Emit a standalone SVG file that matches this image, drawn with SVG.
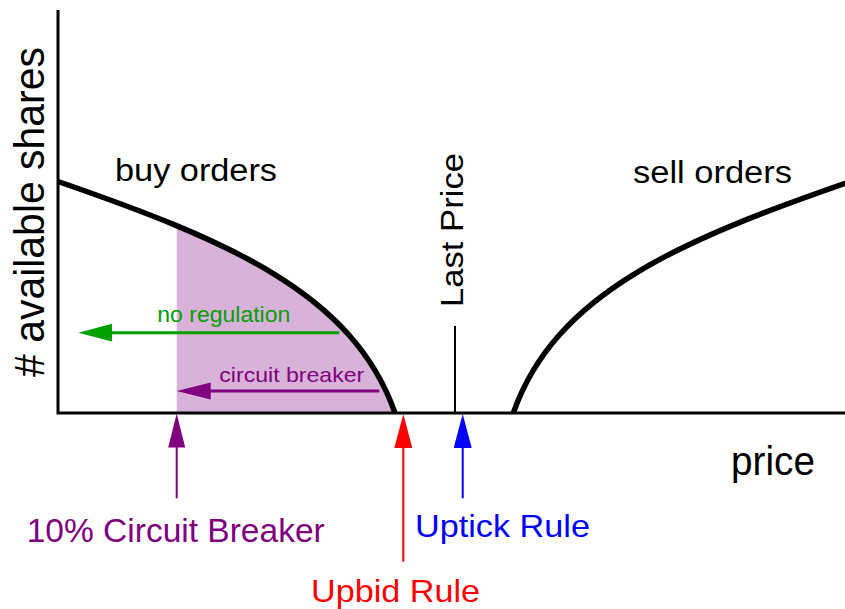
<svg xmlns="http://www.w3.org/2000/svg" width="845" height="609" viewBox="0 0 845 609">
<style>
text{font-family:"Liberation Sans",Arial,Helvetica,sans-serif}
.axis{fill:none;stroke:#000;stroke-width:3;stroke-linejoin:miter}
.curve{fill:none;stroke:#000;stroke-width:5.5;stroke-linecap:butt}
.green{fill:#00a000}
.purple{fill:#800080}
.red{fill:#ff0000}
.blue{fill:#0000ff}
</style>
<defs>
<marker id="hG" markerUnits="userSpaceOnUse" markerWidth="36" markerHeight="20" refX="4" refY="9" orient="auto"><path d="M34,9 L0,0 L0,18 Z" fill="#00a000"/></marker>
<marker id="hP" markerUnits="userSpaceOnUse" markerWidth="36" markerHeight="20" refX="4" refY="9" orient="auto"><path d="M34,9 L0,0.5 L0,17.5 Z" fill="#800080"/></marker>
<marker id="hR" markerUnits="userSpaceOnUse" markerWidth="36" markerHeight="20" refX="4" refY="9" orient="auto"><path d="M34,9 L0,0 L0,18 Z" fill="#ff0000"/></marker>
<marker id="hB" markerUnits="userSpaceOnUse" markerWidth="36" markerHeight="20" refX="4" refY="9" orient="auto"><path d="M34,9 L0,0 L0,18 Z" fill="#0000ff"/></marker>
<clipPath id="cbClip"><rect x="176.7" y="0" width="300" height="413"/></clipPath>
</defs>

<g id="shading">
<path d="M58,181.5 C228,240.3 353,293 395,413 L58,413 Z" fill="#d8b2d8" clip-path="url(#cbClip)"/>
</g>

<g id="axes">
<polyline class="axis" points="58,10 58,413 845,413"/>
<text transform="translate(43.5,377) rotate(-90)" font-size="42" textLength="330" lengthAdjust="spacingAndGlyphs"># available shares</text>
<text x="731" y="475" font-size="40" textLength="84" lengthAdjust="spacingAndGlyphs">price</text>
</g>

<g id="buy-orders">
<path class="curve" d="M58,181.5 C228,240.3 353,293 395,413"/>
<text x="115" y="181" font-size="31" textLength="162" lengthAdjust="spacingAndGlyphs">buy orders</text>
</g>

<g id="sell-orders">
<path class="curve" d="M513.3,413 C555.3,293 680.3,240.3 850.3,181.5"/>
<text x="633" y="183" font-size="31" textLength="159" lengthAdjust="spacingAndGlyphs">sell orders</text>
</g>

<g id="last-price">
<line x1="455" y1="326" x2="455" y2="413" stroke="#000" stroke-width="2"/>
<text transform="translate(463,307) rotate(-90)" font-size="31" textLength="154" lengthAdjust="spacingAndGlyphs">Last Price</text>
</g>

<g id="connectors">
<line x1="339.3" y1="332.7" x2="108.3" y2="332.7" stroke="#00a000" stroke-width="3" marker-end="url(#hG)"/>
<line x1="379.3" y1="391" x2="206.7" y2="391" stroke="#800080" stroke-width="3" marker-end="url(#hP)"/>
<line x1="176.7" y1="498.3" x2="176.7" y2="443.5" stroke="#800080" stroke-width="2" marker-end="url(#hP)"/>
<line x1="403.3" y1="561.7" x2="403.3" y2="444" stroke="#ff0000" stroke-width="2" marker-end="url(#hR)"/>
<line x1="462.7" y1="498.3" x2="462.7" y2="444" stroke="#0000ff" stroke-width="2" marker-end="url(#hB)"/>
</g>

<g id="no-regulation">
<text class="green" x="157.3" y="321.7" font-size="21.5" textLength="133" lengthAdjust="spacingAndGlyphs">no regulation</text>
</g>
<g id="circuit-breaker">
<text class="purple" x="219.3" y="382.3" font-size="21" textLength="145" lengthAdjust="spacingAndGlyphs">circuit breaker</text>
</g>
<g id="ten-percent-circuit-breaker">
<text class="purple" x="26.7" y="541.7" font-size="32.5" textLength="298" lengthAdjust="spacingAndGlyphs">10% Circuit Breaker</text>
</g>
<g id="uptick-rule">
<text class="blue" x="415" y="537" font-size="32" textLength="175" lengthAdjust="spacingAndGlyphs">Uptick Rule</text>
</g>
<g id="upbid-rule">
<text class="red" x="311" y="602" font-size="32" textLength="169" lengthAdjust="spacingAndGlyphs">Upbid Rule</text>
</g>
</svg>
